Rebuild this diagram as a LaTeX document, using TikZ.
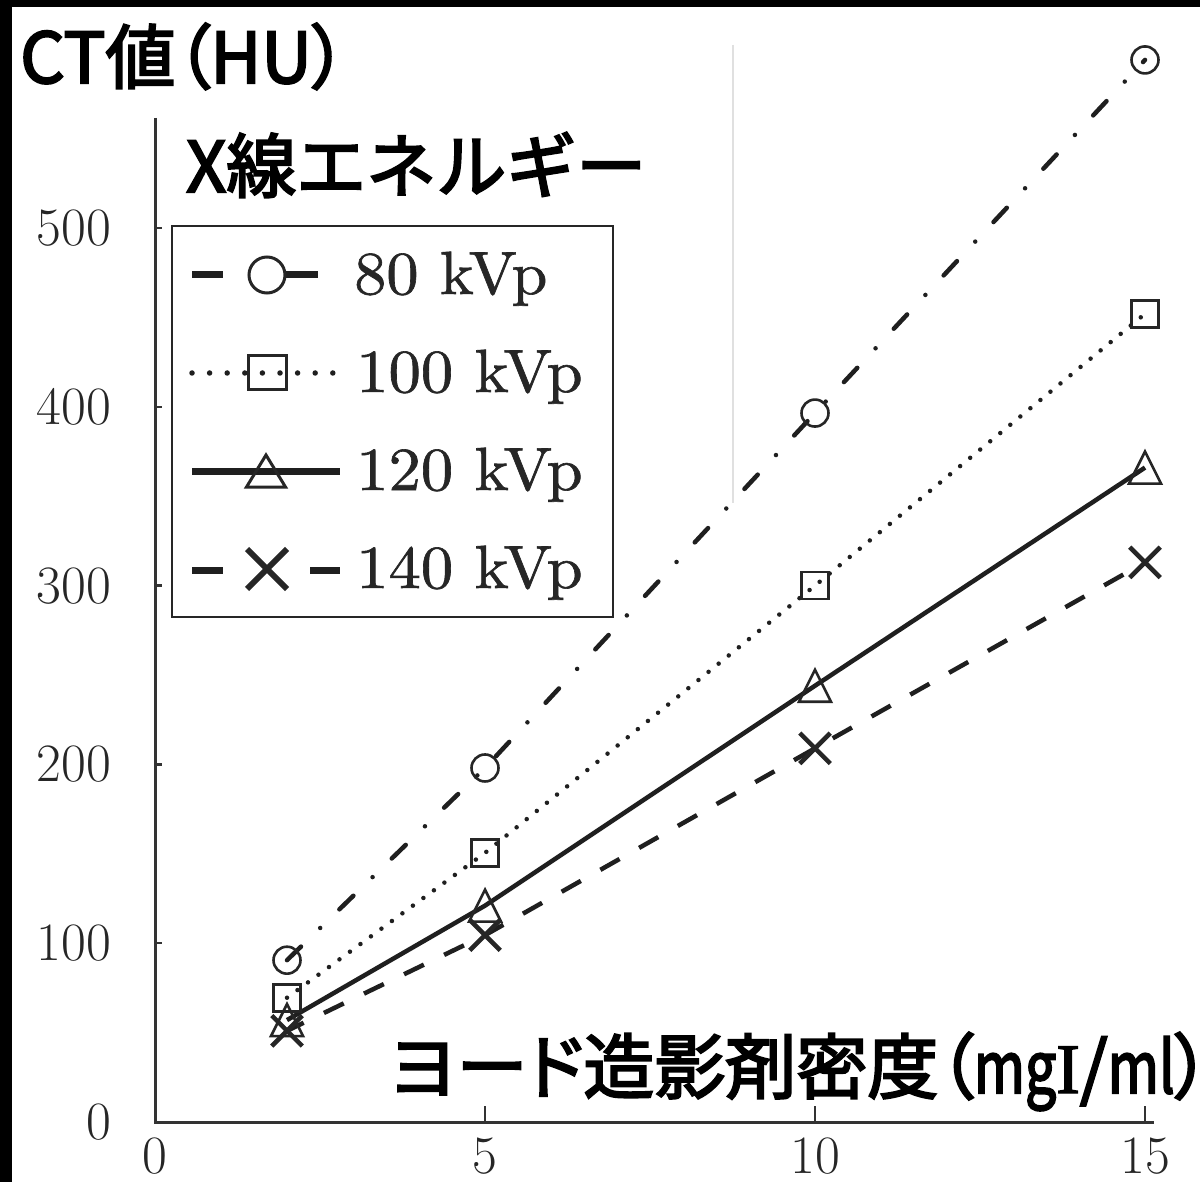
\documentclass[tikz,border=0pt]{standalone}
\usepackage{fontspec}
\usepackage{graphicx}
\usetikzlibrary{shapes.misc}
\newfontfamily\cjk{Noto Sans CJK JP}[FakeBold=3]
\newfontfamily\cjkp{Noto Sans CJK JP}[FakeBold=3,RawFeature=+palt]
\newfontfamily\serifb{Liberation Serif}[FakeBold=2]
\newfontfamily\lmten{lmroman10-regular.otf}[FakeBold=1]
\begin{document}
\begin{tikzpicture}[x=1pt,y=-1pt,
  axis/.style={line width=3pt,black!80},
  tickmark/.style={line width=2.5pt,black!80},
  mk/.style={draw=black!85,line width=2.6pt,fill=none,inner sep=0pt},
  series/.style={line width=4.5pt,black!88},
  ticklab/.style={font=\fontsize{54}{54}\selectfont,inner sep=0pt,text=black!85},
  leglab/.style={font=\lmten\fontsize{61}{61}\selectfont,inner sep=0pt,anchor=base west,text=black!85},
  cjklab/.style={font=\cjk\fontsize{70}{70}\selectfont,inner sep=0pt,anchor=base west},
  legline/.style={line width=7pt,black!88},
  tri/.pic={\draw[mk] (0pt,16pt) -- (16pt,-16pt) -- (-16pt,-16pt) -- cycle;},
]
\useasboundingbox (0,0) rectangle (1200,1182);
\fill[white] (0,0) rectangle (1200,1182);
\fill[black] (0,0) rectangle (11.5,1182);
\fill[black] (0,0) rectangle (1200,7.5);
% faint artefact line
\coordinate (fa) at (733,45);
\coordinate (fb) at (733,503);
\draw[black!12,line width=1.2pt] (fa) -- (fb);
% axes
\coordinate (O) at (155,1122);
\coordinate (ytop) at (155,118);
\coordinate (xend) at (1154,1122);
\draw[axis] (ytop) -- (O) -- (xend);
\begin{scope}[shift={(155,1122)},x=66pt,y=1.788pt]
  \foreach \v in {100,200,300,400,500} {
    \draw[tickmark] (0,\v) -- ++(6.5pt,0pt);
  }
  \foreach \v in {0,100,200,300,400,500} {
    \node[ticklab,anchor=east,xshift=-44pt] (yl\v) at (0,\v) {\v};
  }
  \foreach \v in {5,10,15} {
    \draw[tickmark] (\v,0) -- ++(0pt,16pt);
  }
  \foreach \v in {0,5,10,15} {
    \node[ticklab,anchor=north,yshift=-16pt] (xl\v) at (\v,0) {\v};
  }
  % data points
  \coordinate (p80a) at (2,90.5);
  \coordinate (p80b) at (5,198);
  \coordinate (p80c) at (10,396.5);
  \coordinate (p80d) at (15,594);
  \coordinate (p100a) at (2,69.5);
  \coordinate (p100b) at (5,150.5);
  \coordinate (p100c) at (10,300);
  \coordinate (p100d) at (15,452);
  \coordinate (p120a) at (2,57);
  \coordinate (p120b) at (5,121);
  \coordinate (p120c) at (10,244);
  \coordinate (p120d) at (15,366);
  \coordinate (p140a) at (2,51);
  \coordinate (p140b) at (5,104.5);
  \coordinate (p140c) at (10,209);
  \coordinate (p140d) at (15,313);
  % series lines
  \draw[series,line cap=round,dash pattern=on 19.5pt off 26.75pt on 0pt off 26.75pt] (p80a) -- (p80b) -- (p80c) -- (p80d);
  \draw[series,line cap=round,dash pattern=on 0pt off 13pt] (p100a) -- (p100b) -- (p100c) -- (p100d);
  \draw[series] (p120a) -- (p120b) -- (p120c) -- (p120d);
  \draw[series,dash pattern=on 22pt off 22.5pt,dash phase=3.5pt] (p140a) -- (p140b) -- (p140c) -- (p140d);
  % markers
  \foreach \p in {a,b,c,d} {
    \node[mk,circle,minimum size=27pt] (m80\p) at (p80\p) {};
    \node[mk,rectangle,minimum size=27pt] (m100\p) at (p100\p) {};
    \pic at (p120\p) {tri};
    \node[mk,cross out,minimum size=26pt,line width=4.5pt] (m140\p) at (p140\p) {};
  }
\end{scope}
% legend
\node[draw=black!85,line width=2.5pt,minimum width=441pt,minimum height=391pt,inner sep=0pt] (legbox) at (392.5,421.5) {};
\coordinate (l1a) at (192,275); \coordinate (l1b) at (223,275);
\coordinate (l1c) at (285,275); \coordinate (l1d) at (318,275);
\draw[legline] (l1a) -- (l1b) (l1c) -- (l1d);
\node[mk,circle,minimum size=36pt,line width=3pt] (lm1) at (267,275) {};
\coordinate (l2a) at (192,373); \coordinate (l2b) at (340,373);
\draw[line width=5.5pt,black!88,line cap=round,dash pattern=on 0pt off 17.6pt] (l2a) -- (l2b);
\node[mk,rectangle,minimum width=38pt,minimum height=34pt,line width=3pt] (lm2) at (267,373) {};
\coordinate (l3a) at (192,471); \coordinate (l3b) at (340,471);
\draw[legline] (l3a) -- (l3b);
\coordinate (t1) at (266,455); \coordinate (t2) at (285.5,487); \coordinate (t3) at (246.5,487);
\draw[mk,line width=3pt] (t1) -- (t2) -- (t3) -- cycle;
\coordinate (l4a) at (192,570); \coordinate (l4b) at (223,570);
\coordinate (l4c) at (310,570); \coordinate (l4d) at (340,570);
\draw[legline] (l4a) -- (l4b) (l4c) -- (l4d);
\node[mk,cross out,minimum size=34pt,line width=6pt] (lm4) at (267,569) {};
\node[leglab] (lt1) at (354,294) {\scalebox{1.055}[1]{80 kVp}};
\node[leglab] (lt2) at (356,392) {\scalebox{1.06}[1]{100 kVp}};
\node[leglab] (lt3) at (356,490) {\scalebox{1.06}[1]{120 kVp}};
\node[leglab] (lt4) at (356,588) {\scalebox{1.06}[1]{140 kVp}};
% titles
\node[cjklab] (ytitle) at (20,83) {CT値{\cjkp（}HU{\cjkp）}};
\node[cjklab] (legtitle) at (186,192) {X線エネルギー};
\node[cjklab,font=\cjkp\fontsize{71}{71}\selectfont] (xtitle) at (389,1093) {ヨード造影剤密度（\scalebox{0.78}[1]{mg}{\serifb I}/\scalebox{0.78}[1]{ml}）};
\end{tikzpicture}
\end{document}
